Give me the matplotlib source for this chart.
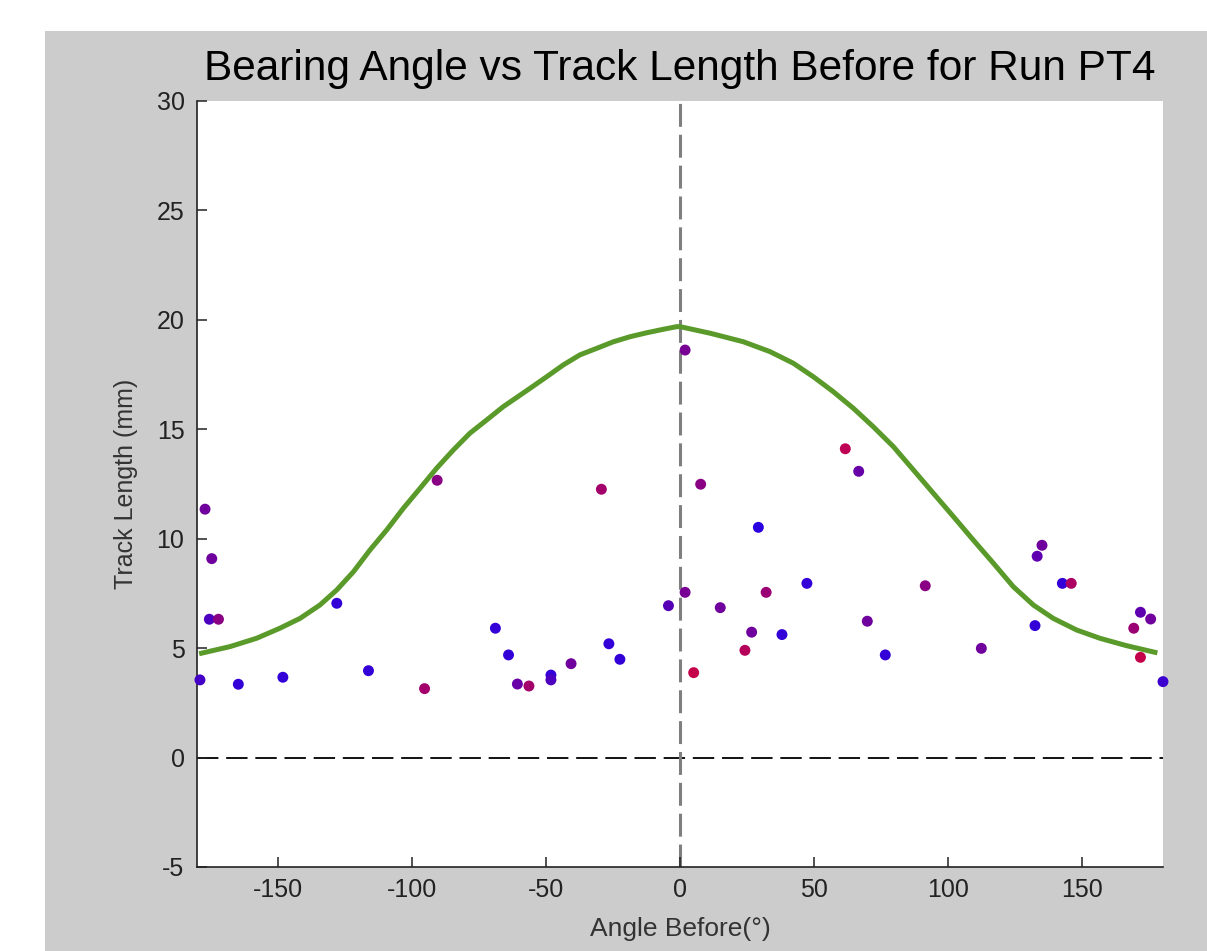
import matplotlib
matplotlib.use("Agg")
import matplotlib.pyplot as plt
from matplotlib.colors import LinearSegmentedColormap
from matplotlib.patches import Rectangle

plt.rcParams['font.family'] = ['Liberation Sans', 'DejaVu Sans']
plt.rcParams['axes.unicode_minus'] = False

# scatter data: bearing angle before (deg), track length (mm), colour value (0 blue .. 1 red)
angle = [-178.9, -177.0, -174.5, -175.4, -172.0, -164.6, -148.0, -127.9, -116.1, -95.2,
         -90.5, -68.8, -63.9, -60.6, -56.3, -48.1, -48.1, -40.6, -29.3, -26.5,
         -22.4, -4.3, 1.9, 1.9, 7.7, 5.1, 15.0, 29.2, 26.7, 24.2,
         32.1, 38.0, 47.3, 61.6, 66.6, 69.8, 76.5, 91.4, 112.3, 132.3,
         133.1, 134.9, 142.5, 145.8, 169.1, 171.6, 175.4, 171.6, 180.0]
length = [3.55, 11.35, 9.09, 6.32, 6.32, 3.35, 3.67, 7.05, 3.97, 3.15,
          12.67, 5.91, 4.69, 3.36, 3.27, 3.77, 3.55, 4.29, 12.26, 5.20,
          4.49, 6.94, 18.62, 7.55, 12.49, 3.88, 6.85, 10.52, 5.73, 4.90,
          7.55, 5.62, 7.96, 14.11, 13.08, 6.23, 4.69, 7.85, 4.99, 6.03,
          9.20, 9.70, 7.96, 7.96, 5.91, 6.64, 6.33, 4.58, 3.47]
shade = [0.15, 0.40, 0.40, 0.20, 0.55, 0.05, 0.05, 0.05, 0.05, 0.70,
         0.55, 0.05, 0.05, 0.35, 0.70, 0.05, 0.20, 0.40, 0.70, 0.05,
         0.05, 0.25, 0.45, 0.45, 0.55, 0.90, 0.40, 0.00, 0.40, 0.80,
         0.65, 0.05, 0.05, 0.85, 0.35, 0.40, 0.05, 0.55, 0.40, 0.05,
         0.30, 0.40, 0.05, 0.75, 0.65, 0.30, 0.40, 0.90, 0.10]

# fitted curve
fit_angle = [-178.3, -167.7, -157.8, -149.1, -141.6, -134.2, -127.9, -121.7, -115.5, -109.3,
             -103.1, -96.9, -90.7, -84.5, -78.3, -72.0, -65.9, -55.9, -49.7, -43.5,
             -37.3, -31.0, -24.8, -18.6, -12.4, -6.2, -1.2, 0.0, 11.2, 23.6,
             33.5, 42.2, 49.7, 57.1, 64.6, 72.0, 79.5, 87.0, 94.4, 101.9,
             109.3, 116.8, 124.2, 131.7, 139.1, 147.8, 156.5, 166.5, 177.0]
fit_length = [4.77, 5.07, 5.45, 5.91, 6.36, 6.97, 7.66, 8.49, 9.49, 10.40,
              11.39, 12.30, 13.22, 14.05, 14.82, 15.43, 16.03, 16.87, 17.40, 17.94,
              18.40, 18.70, 19.00, 19.23, 19.41, 19.57, 19.69, 19.69, 19.39, 19.00,
              18.55, 18.02, 17.40, 16.72, 15.96, 15.12, 14.21, 13.14, 12.08, 11.01,
              9.94, 8.88, 7.81, 6.97, 6.36, 5.83, 5.45, 5.11, 4.81]

xticks = [-150, -100, -50, 0, 50, 100, 150]
yticks = [-5, 0, 5, 10, 15, 20, 25, 30]

cmap = LinearSegmentedColormap.from_list("bluered", ["#2b00e0", "#d6003a"])

fig = plt.figure(figsize=(12.07, 9.51), dpi=100)
fig.patch.set_facecolor("white")
fig.add_artist(Rectangle((45 / 1207, 0), 1 - 45 / 1207, 1 - 31 / 951,
                         transform=fig.transFigure, facecolor="#cccccc",
                         edgecolor="none", zorder=-10))

ax = fig.add_axes([197 / 1207, 1 - 867 / 951, (1163 - 197) / 1207, (867 - 101) / 951])
ax.set_facecolor("white")

ax.axhline(0, color="#111111", lw=1.4, dashes=(11, 4), zorder=1)
ax.axvline(0, color="#7f7f7f", lw=2.2, dashes=(7.5, 2.6), zorder=1)

ax.plot(fit_angle, fit_length, color="#5a9a2a", lw=3.6, zorder=2,
        solid_joinstyle="round")
ax.scatter(angle, length, c=shade, cmap=cmap, vmin=0, vmax=1, s=62,
           edgecolors="none", zorder=3, clip_on=False)

ax.set_xlim(-180, 180)
ax.set_ylim(-5, 30)
ax.set_xticks(xticks)
ax.set_yticks(yticks)

for side in ["top", "right"]:
    ax.spines[side].set_visible(False)
for side in ["left", "bottom"]:
    ax.spines[side].set_linewidth(1.2)
    ax.spines[side].set_color("#222222")

ax.tick_params(direction="in", length=7, width=1.1, color="#222222",
               labelsize=18, labelcolor="#222222")
ax.tick_params(axis="y", pad=9)
ax.tick_params(axis="x", pad=8)

ax.set_title("Bearing Angle vs Track Length Before for Run PT4", fontsize=30.5, pad=15)
ax.set_xlabel("Angle Before(°)", fontsize=19, color="#333333", labelpad=11)
ax.set_ylabel("Track Length (mm)", fontsize=18, color="#333333", labelpad=13)

fig.savefig("out.png", dpi=100)
